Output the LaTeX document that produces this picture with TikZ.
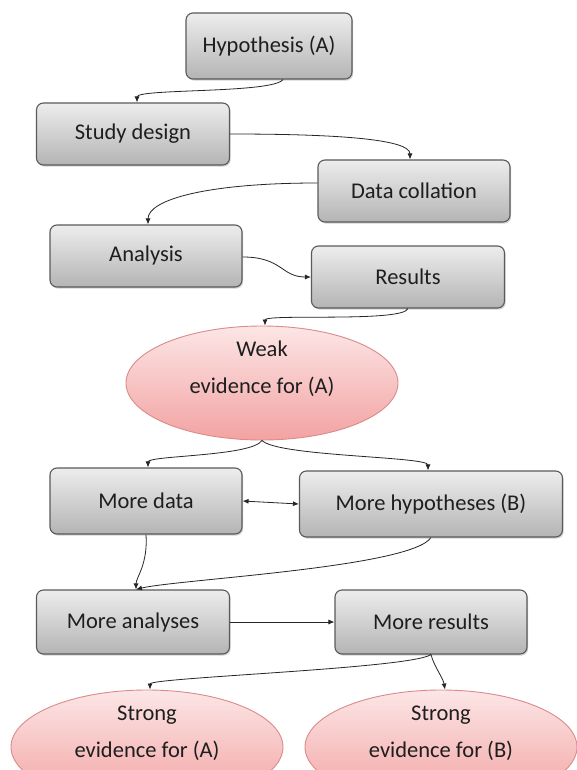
\documentclass[tikz,border=0pt]{standalone}
\usepackage{fontspec}
\setmainfont{Carlito}
\usetikzlibrary{shapes.geometric,shadows,arrows.meta,calc}
\definecolor{boxtop}{HTML}{EDEDED}
\definecolor{boxbot}{HTML}{B4B4B4}
\definecolor{boxline}{HTML}{5A5A5A}
\definecolor{elltop}{HTML}{FCE6E6}
\definecolor{ellbot}{HTML}{F3A2A2}
\definecolor{elline}{HTML}{DC8A8A}
\definecolor{txt}{HTML}{1E1E1E}
\tikzset{
  stepbox/.style={draw=boxline, line width=1.1pt, rounded corners=7pt,
    top color=boxtop, bottom color=boxbot, text=txt,
    minimum height=62pt, inner sep=0pt,
    drop shadow={shadow xshift=1.2pt, shadow yshift=-1.6pt, opacity=0.35},
    font=\fontsize{22.5}{26}\selectfont},
  evid/.style={ellipse, draw=elline, line width=0.9pt,
    top color=elltop, bottom color=ellbot,
    minimum width=272pt, minimum height=114pt, inner sep=0pt},
  evtext/.style={text=txt, align=center, inner sep=0pt,
    font=\fontsize{22.5}{37}\selectfont},
  conn/.style={draw=black!85, line width=0.8pt, -{Latex[length=6pt,width=5pt]}},
}
\begin{document}
\begin{tikzpicture}[x=1pt,y=-1pt]
\fill[white] (0,0) rectangle (577,770);
\clip (0,0) rectangle (577,770);
\node[stepbox, minimum width=166pt, minimum height=66pt] (hyp) at (269,46) {Hypothesis (A)};
\node[stepbox, minimum width=193pt] (study) at (133,134) {Study design};
\node[stepbox, minimum width=192pt] (data) at (414,191) {Data collation};
\node[stepbox, minimum width=192pt] (ana) at (146,256) {Analysis};
\node[stepbox, minimum width=193pt] (res) at (408,277) {Results};
\node[evid, label={[evtext, yshift=14pt]center:Weak\\evidence for (A)}] (weak) at (262,383) {};
\node[stepbox, minimum width=192pt, minimum height=66pt] (mdata) at (146,501) {More data};
\node[stepbox, minimum width=263pt, minimum height=66pt] (mhyp) at (431,504) {More hypotheses (B)};
\node[stepbox, minimum width=193pt, minimum height=64pt] (mana) at (133,622) {More analyses};
\node[stepbox, minimum width=192pt, minimum height=64pt] (mres) at (431,622) {More results};
\node[evid, label={[evtext, yshift=14pt]center:Strong\\evidence for (A)}] (sa) at (147,747) {};
\node[evid, label={[evtext, yshift=14pt]center:Strong\\evidence for (B)}] (sb) at (441,747) {};

\draw[conn] ($(hyp.south)+(14,0)$) .. controls +(-10,14) and +(0,-14) .. ($(study.north)+(4,0)$);
\draw[conn] (study.east) .. controls +(110,0) and +(0,-20) .. ($(data.north)+(-4,0)$);
\draw[conn] ($(data.west)+(0,-8)$) .. controls +(-110,0) and +(0,-25) .. ($(ana.north)+(2,0)$);
\draw[conn] ($(ana.east)+(0,1)$) .. controls +(40,0) and +(-30,0) .. (res.west);
\draw[conn] (res.south) .. controls +(-5,14) and +(0,-12) .. ($(weak.north)+(3,0)$);
\draw[conn] (weak.south) .. controls +(-10,16) and +(0,-12) .. ($(mdata.north)+(2,0)$);
\draw[conn] (weak.south) .. controls +(15,16) and +(0,-14) .. ($(mhyp.north)+(-3,0)$);
\draw[conn, {Latex[length=6pt,width=5pt]}-{Latex[length=6pt,width=5pt]}] (mdata.east) -- (mhyp.west);
\draw[conn] (mdata.south) .. controls +(2,30) and +(0,-12) .. ($(mana.north)+(3,0)$);
\draw[conn] (mhyp.south) .. controls +(-20,30) and +(40,-10) .. ($(mana.north)+(3,0)$);
\draw[conn] (mana.east) -- (mres.west);
\draw[conn] (mres.south) .. controls +(-20,14) and +(0,-12) .. ($(sa.north)+(3,0)$);
\draw[conn] (mres.south) .. controls +(3,12) and +(-2,-12) .. ($(sb.north)+(4,0)$);
\end{tikzpicture}
\end{document}
